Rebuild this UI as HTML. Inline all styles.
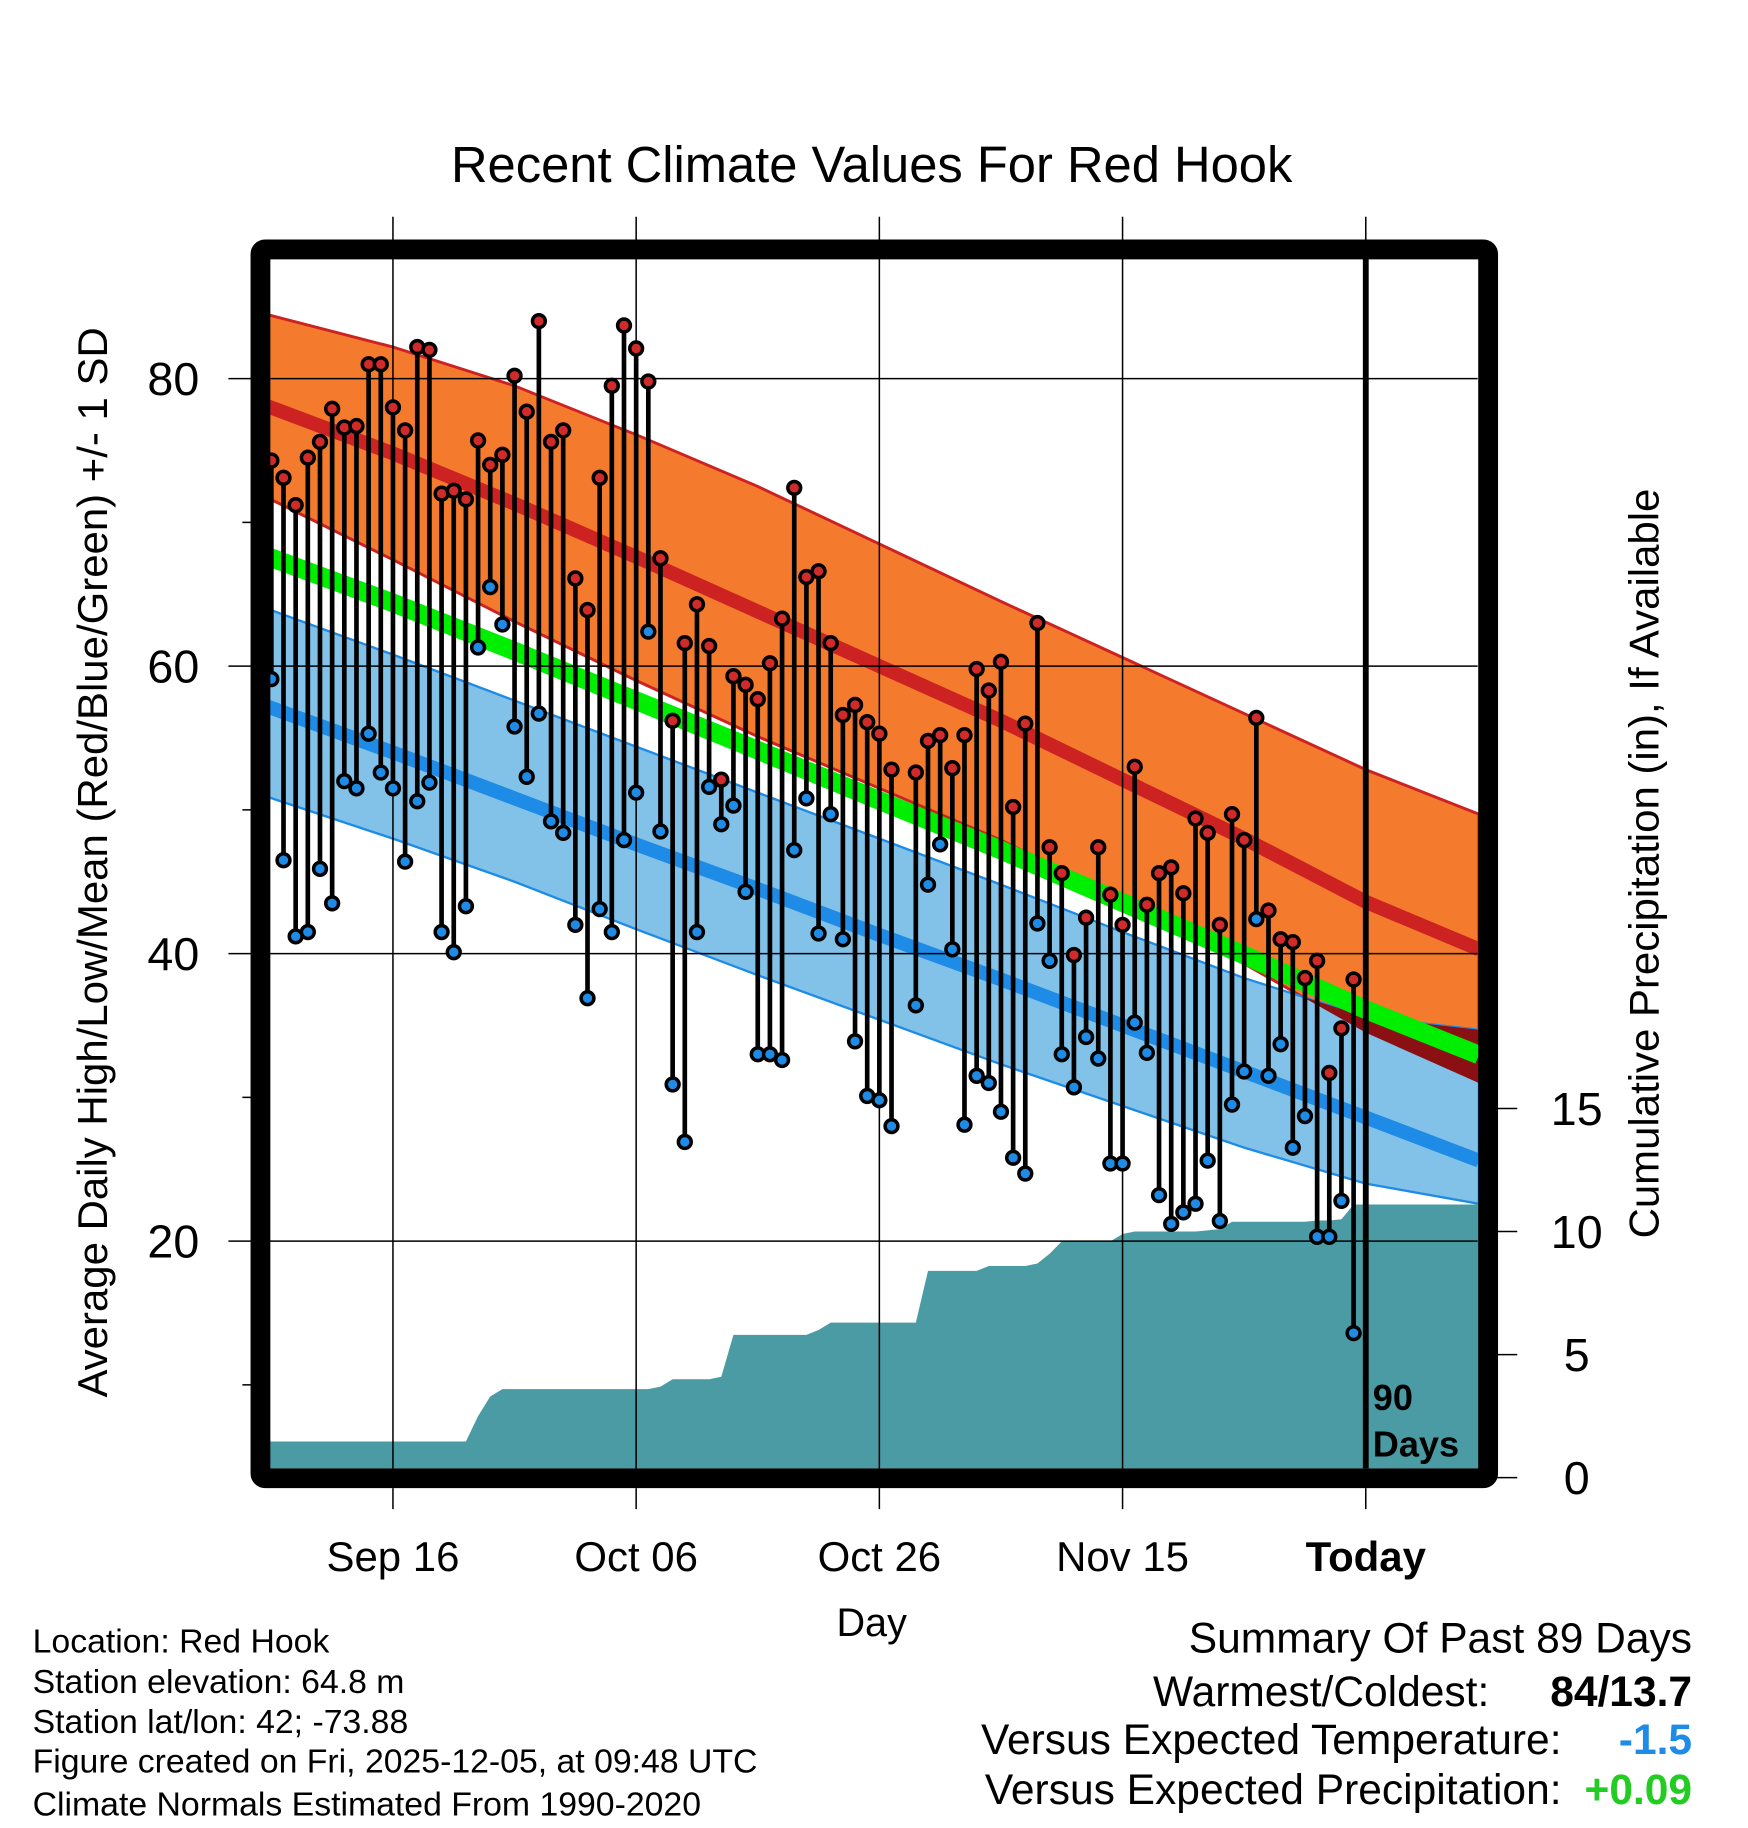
<!DOCTYPE html>
<html><head><meta charset="utf-8"><style>
html,body{margin:0;padding:0;background:#fff}
svg{display:block;font-family:"Liberation Sans",sans-serif}
</style></head><body>
<svg id="chart" width="1748" height="1828" viewBox="0 0 1500 1568.6" xmlns="http://www.w3.org/2000/svg">
<defs><clipPath id="plotclip"><rect x="231" y="222" width="1038" height="1038"/></clipPath></defs>
<text x="748" y="156" font-size="43.5" text-anchor="middle">Recent Climate Values For Red Hook</text>
<g id="bands" clip-path="url(#plotclip)"></g>
<g id="grid"></g>
<g id="marks" clip-path="url(#plotclip)"></g>
<rect x="223.5" y="214" width="1053.5" height="1054.5" rx="4" fill="none" stroke="#000" stroke-width="17"/>
<g id="axes"></g>
<text transform="translate(92,740) rotate(-90)" font-size="36" text-anchor="middle">Average Daily High/Low/Mean (Red/Blue/Green) +/- 1 SD</text>
<text transform="translate(1423,741) rotate(-90)" font-size="36" text-anchor="middle">Cumulative Precipitation (in), If Available</text>
<text x="748" y="1404" font-size="34" text-anchor="middle">Day</text>
<g font-size="29">
<text x="28" y="1418">Location: Red Hook</text>
<text x="28" y="1453">Station elevation: 64.8 m</text>
<text x="28" y="1487">Station lat/lon: 42; -73.88</text>
<text x="28" y="1521">Figure created on Fri, 2025-12-05, at 09:48 UTC</text>
<text x="28" y="1558">Climate Normals Estimated From 1990-2020</text>
</g>
<g font-size="36.5" text-anchor="end">
<text x="1452" y="1418">Summary Of Past 89 Days</text>
<text x="1278" y="1464">Warmest/Coldest:</text>
<text x="1452" y="1464" font-weight="bold">84/13.7</text>
<text x="1340" y="1505">Versus Expected Temperature:</text>
<text x="1452" y="1505" font-weight="bold" fill="#1e8ce6">-1.5</text>
<text x="1340" y="1548">Versus Expected Precipitation:</text>
<text x="1452" y="1548" font-weight="bold" fill="#22cc22">+0.09</text>
</g>
</svg>
<script>
const highs=[74.3,73.1,71.2,74.5,75.6,77.9,76.6,76.7,81.0,81.0,78.0,76.4,82.2,82.0,72.0,72.2,71.6,75.7,74.0,74.7,80.2,77.7,84.0,75.6,76.4,66.1,63.9,73.1,79.5,83.7,82.1,79.8,67.5,56.2,61.6,64.3,61.4,52.1,59.3,58.7,57.7,60.2,63.3,72.4,66.2,66.6,61.6,56.6,57.3,56.1,55.3,52.8,null,52.6,54.8,55.2,52.9,55.2,59.8,58.3,60.3,50.2,56.0,63.0,47.4,45.6,39.9,42.5,47.4,44.1,42.0,53.0,43.4,45.6,46.0,44.2,49.4,48.4,42.0,49.7,47.9,56.4,43.0,41.0,40.8,38.3,39.5,31.7,34.8,38.2];
const lows=[59.1,46.5,41.2,41.5,45.9,43.5,52.0,51.5,55.3,52.6,51.5,46.4,50.6,51.9,41.5,40.1,43.3,61.3,65.5,62.9,55.8,52.3,56.7,49.2,48.4,42.0,36.9,43.1,41.5,47.9,51.2,62.4,48.5,30.9,26.9,41.5,51.6,49.0,50.3,44.3,33.0,33.0,32.6,47.2,50.8,41.4,49.7,41.0,33.9,30.1,29.8,28.0,null,36.4,44.8,47.6,40.3,28.1,31.5,31.0,29.0,25.8,24.7,42.1,39.5,33.0,30.7,34.2,32.7,25.4,25.4,35.2,33.1,23.2,21.2,22.0,22.6,25.6,21.4,29.5,31.8,42.4,31.5,33.7,26.5,28.7,20.3,20.3,22.8,13.6];
const precip=[1.47,1.47,1.47,1.47,1.47,1.47,1.47,1.47,1.47,1.47,1.47,1.47,1.47,1.47,1.47,1.47,1.47,2.5,3.3,3.6,3.6,3.6,3.6,3.6,3.6,3.6,3.6,3.6,3.6,3.6,3.6,3.6,3.7,4.0,4.0,4.0,4.0,4.1,5.8,5.8,5.8,5.8,5.8,5.8,5.8,6.0,6.3,6.3,6.3,6.3,6.3,6.3,6.3,6.3,8.4,8.4,8.4,8.4,8.4,8.6,8.6,8.6,8.6,8.7,9.1,9.6,9.6,9.6,9.6,9.6,9.9,10.0,10.0,10.0,10.0,10.0,10.0,10.05,10.1,10.4,10.4,10.4,10.4,10.4,10.4,10.4,10.45,10.45,10.5,11.1];
const normDays=[-91,-80,-70,-60,-50,-40,-30,-20,-10,0,9.3];
const normHigh=[78.3,74.8,71.3,67.6,63.8,60.0,56.2,52.1,48.0,43.6,40.3];
const normHighUp=[84.6,82.2,79.5,76.1,72.5,68.5,64.5,60.6,56.7,52.8,49.7];
const normHighLo=[72.0,67.4,63.1,59.0,55.1,51.5,47.9,43.7,39.3,34.5,31.0];
const normLow=[57.4,54.0,50.8,47.6,44.5,41.3,38.2,35.0,31.8,28.6,25.6];
const normLowUp=[64.2,60.8,57.6,54.4,51.2,48.0,44.8,41.5,38.3,35.6,34.7];
const normLowLo=[51.1,48.0,45.0,41.7,38.5,35.4,32.3,29.4,26.5,24.0,22.6];
const yTicks=[80,60,40,20], yMinor=[70,50,30,10], pTicks=[0,5,10,15];
const xTickDays=[-80,-60,-40,-20,0], xTickLabels=["Sep 16","Oct 06","Oct 26","Nov 15","Today"];

const NS="http://www.w3.org/2000/svg";
const xD=d=>1172+d*10.435;
const yT=t=>1065-(t-20)*12.335;
const yP=p=>1268-p*21.12;
function mk(tag,attrs,parent){const e=document.createElementNS(NS,tag);for(const k in attrs)e.setAttribute(k,attrs[k]);parent.appendChild(e);return e;}
const bands=document.getElementById('bands'),grid=document.getElementById('grid'),marks=document.getElementById('marks'),axes=document.getElementById('axes');
const defs=document.querySelector('defs');
function bandPts(up,lo){let a=normDays.map((d,i)=>xD(d)+','+yT(up[i]));let b=normDays.map((d,i)=>xD(d)+','+yT(lo[i])).reverse();return a.concat(b).join(' ');}
function linePts(arr){return normDays.map((d,i)=>xD(d)+','+yT(arr[i])).join(' ');}
let e;
e=mk('polygon',{points:bandPts(normHighUp,normHighLo),fill:'#f47a2e',stroke:'#cc2222','stroke-width':2.5},bands);

e=mk('polygon',{points:bandPts(normLowUp,normLowLo),fill:'#82c1e8',stroke:'#1e8ce6','stroke-width':2},bands);

const cp=mk('clipPath',{id:'lowclip'},defs);
mk('polygon',{points:bandPts(normLowUp,normLowLo)},cp);
e=mk('polygon',{points:bandPts(normHighUp,normHighLo),fill:'#8b1014','clip-path':'url(#lowclip)'},bands);

e=mk('polyline',{points:linePts(normHigh),fill:'none',stroke:'#cc2222','stroke-width':12},bands);

e=mk('polyline',{points:linePts(normLow),fill:'none',stroke:'#1e8ce6','stroke-width':12},bands);

const normMean=normHigh.map((h,i)=>(h+normLow[i])/2);
e=mk('polyline',{points:linePts(normMean),fill:'none',stroke:'#00ee00','stroke-width':16},bands);

let pp=[xD(-90.5)+','+yP(0),xD(-90.5)+','+yP(precip[0])];
precip.forEach((p,i)=>pp.push(xD(i-90)+','+yP(p)));
pp.push(xD(-0.5)+','+yP(precip[precip.length-1]));
pp.push(xD(9.5)+','+yP(precip[precip.length-1]));
pp.push(xD(9.5)+','+yP(0));
e=mk('polygon',{points:pp.join(' '),fill:'#4a9ba4'},bands);

yTicks.forEach(t=>{e=mk('line',{x1:196,x2:1268,y1:yT(t),y2:yT(t),stroke:'#000','stroke-width':1.3},grid);

e=mk('text',{x:171,y:yT(t)+14,'font-size':40,'text-anchor':'end'},axes);e.textContent=t;
});
yMinor.forEach(t=>{e=mk('line',{x1:208,x2:216,y1:yT(t),y2:yT(t),stroke:'#000','stroke-width':1.3},grid);
});
xTickDays.forEach((d,i)=>{e=mk('line',{x1:xD(d),x2:xD(d),y1:186,y2:1260,stroke:'#000','stroke-width':1.3},grid);

e=mk('line',{x1:xD(d),x2:xD(d),y1:1277,y2:1295,stroke:'#000','stroke-width':1.3},axes);

e=mk('text',{x:xD(d),y:1348,'font-size':36,'text-anchor':'middle','font-weight':d===0?'bold':'normal'},axes);e.textContent=xTickLabels[i];
});
pTicks.forEach(p=>{e=mk('line',{x1:1285,x2:1302,y1:yP(p),y2:yP(p),stroke:'#000','stroke-width':1.3},axes);

e=mk('text',{x:1353,y:yP(p)+14,'font-size':40,'text-anchor':'middle'},axes);e.textContent=p;
});
e=mk('line',{x1:xD(0),x2:xD(0),y1:222,y2:1260,stroke:'#000','stroke-width':5},marks);

e=mk('text',{x:1178,y:1210,'font-size':31,'font-weight':'bold'},marks);e.textContent='90';

e=mk('text',{x:1178,y:1250,'font-size':31,'font-weight':'bold'},marks);e.textContent='Days';

highs.forEach((h,i)=>{const l=lows[i];if(h==null||l==null)return;const x=xD(i-90);
e=mk('line',{x1:x,x2:x,y1:yT(h),y2:yT(l),stroke:'#000','stroke-width':4},marks);

e=mk('circle',{cx:x,cy:yT(l),r:5.5,fill:'#1e8ce6',stroke:'#000','stroke-width':3},marks);

e=mk('circle',{cx:x,cy:yT(h),r:5.5,fill:'#d12a2a',stroke:'#000','stroke-width':3},marks);
});
</script>
</body></html>
